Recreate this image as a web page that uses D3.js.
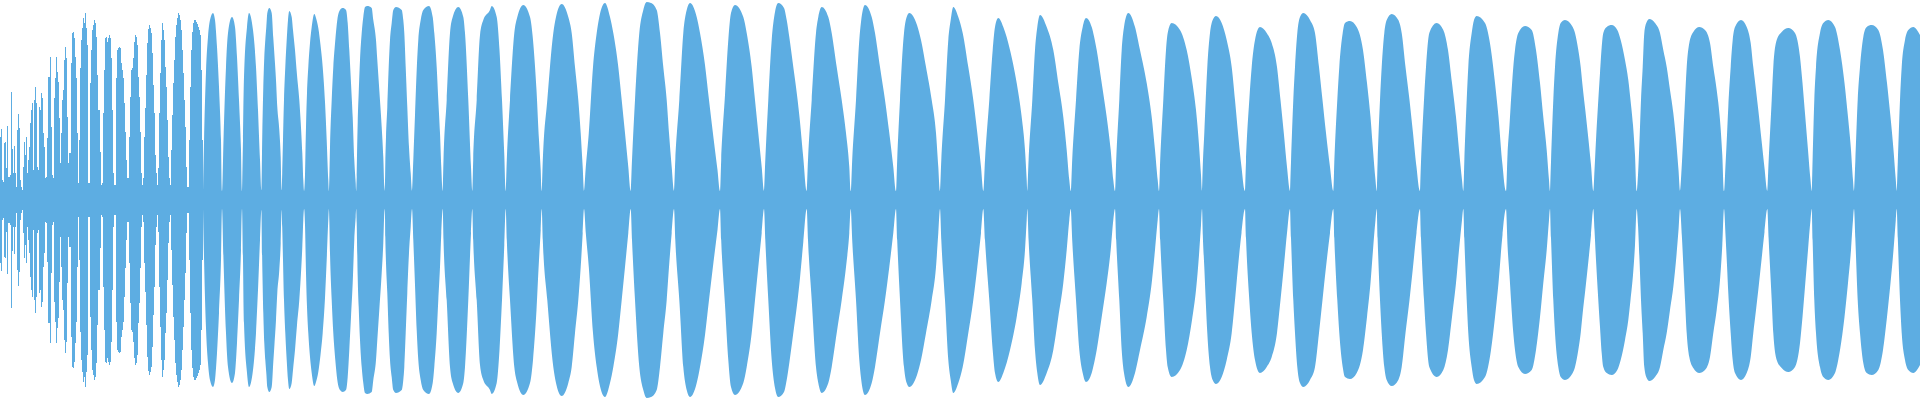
<!DOCTYPE html>
<html><head><meta charset="utf-8">
<script src="https://cdn.jsdelivr.net/npm/d3@7"></script>
<style>html,body{margin:0;padding:0;background:#fff;overflow:hidden}svg{display:block}</style>
</head><body><svg id="chart" width="1920" height="400"></svg>
<script>
// Waveform, one sample per pixel column; amplitudes in level units (full scale = 200)
const sampleCount = 1920;
const levelMax = 200;

// Per-column amplitudes of the noisy opening (columns 0..202)
const spikeAmp = [
 63,71,20,18,57,58,32,74,23,23,
 25,108,51,27,54,27,13,70,86,72,
 20,13,10,33,58,45,63,27,40,53,
 77,90,97,30,100,113,97,33,30,93,
 90,107,102,67,53,22,23,62,123,123,
 143,73,25,22,102,122,143,128,118,82,
 37,67,100,110,140,153,142,83,37,47,
 47,137,167,168,162,143,122,67,17,60,
 132,160,172,182,177,187,172,155,17,17,
 117,150,170,175,180,177,163,125,90,90,
 48,15,17,87,130,162,163,158,162,165,
 162,142,90,27,15,15,122,150,152,153,
 152,137,130,122,97,68,40,22,22,63,
 103,130,132,142,158,165,163,155,123,103,
 68,27,15,22,63,92,125,157,171,175,
 172,167,147,115,87,45,27,15,32,87,
 127,160,177,170,160,133,113,80,43,22,
 15,50,85,117,140,163,175,182,187,185,
 180,170,150,127,100,73,33,13,13,60,
 113,150,168,177,180,180,178,176,173,170,
 165,130,60
];

// Envelope points [sample, amplitude] read from the lobes (column 203 onwards)
const envelope = [
 [203,9],
 [204,57],[206,128],[208,163],[210,180],[213,187],[215,180],[217,153],[219,113],[221,60],[222,9],
 [223.5,60],[226,133],[228,167],[232,183],[235,173],[237,143],[239,100],[241,50],[242,9],
 [243,60],[244,123],[247,173],[249,187],[253,170],[256,133],[258,90],[260,40],[261.4,10],
 [262.3,67],[263.3,113],[264.3,143],[265.3,160],[266.3,173],[267.3,187],[269.3,192],[271.7,187],[273.3,162],[274.3,147],[276,120],[277.3,93],[279.3,70],[280.7,43],[281.6,10],
 [282.2,27],[283,60],[284,100],[285.3,133],[286.7,160],[288,180],[289.3,189],[291.7,183],[293,170],[295,150],[297,125],[299.3,100],[300.7,78],[302.3,47],[303.3,20],[304.1,9],
 [305,25],[306,73],[307,107],[308.3,133],[310,157],[311.7,173],[314.3,186],[316,182],[318.3,172],[320.5,155],[322.7,133],[325,98],[326.7,60],[328.3,20],[328.9,9],
 [329.3,20],[330,53],[331.7,100],[333.3,133],[335.3,160],[337.3,180],[340,190],[342.7,192],[346,190],[347.7,177],[349.3,150],[351,117],[352.7,83],[354.3,40],[355.7,17],[356.2,9],
 [356.7,23],[357.7,77],[358.7,107],[360,140],[361.7,167],[363.3,183],[365,193],[367.3,194],[371.7,192],[373.3,180],[376,160],[377.3,140],[379.3,110],[381.7,73],[383.3,43],[384.3,13],[384.8,9],
 [385.3,37],[386,63],[387.3,93],[388.7,133],[390,160],[391.7,177],[393.3,190],[396,193],[401.7,190],[403.3,180],[404.3,167],[405.7,133],[407.3,93],[409,53],[410.7,27],[412,9],
 [413.3,40],[415,85],[416.7,130],[418.3,160],[420.7,180],[423.3,190],[429,194],[432.7,183],[434.3,167],[436.7,133],[438.3,100],[440,67],[441.3,33],[442.7,9],
 [443.5,40],[446.7,100],[450,167],[452.7,183],[458.3,193],[463.3,183],[465,167],[468.3,100],[471,33],[472.3,9],
 [473.2,40],[476.7,100],[480,165],[483.3,180],[490,190],[491.7,194],[496.7,183],[499.5,150],[502,100],[504.3,45],[505.7,9],
 [506.8,40],[510,100],[514.3,167],[517.3,183],[523.3,195],[530,183],[533,160],[536.5,110],[539,60],[540.7,30],[541.7,9],
 [542.8,40],[547.3,100],[553.3,167],[556,183],[561.7,196],[568.3,183],[571.7,167],[575,133],[578.3,100],[580.7,67],[582.7,33],[584,9],
 [585.8,33],[588.8,67],[593,133],[596.7,167],[599.3,183],[605,197],[610,183],[613.3,167],[618.3,133],[621.7,100],[625,67],[628.3,33],[630.7,9],
 [632,40],[635,100],[639.3,167],[643.3,190],[646.7,198],[651,197],[656.7,190],[660,167],[663.3,133],[666.7,100],[669,67],[671.7,33],[674,9],
 [675.3,40],[679.3,100],[683.3,167],[686.7,190],[690,197],[696.7,183],[700,167],[705,135],[709,100],[713.5,62],[717.5,30],[720,9],
 [721.2,40],[725,105],[728.3,160],[731,187],[735,195],[743.3,183],[746.7,167],[751.7,133],[755,100],[758.3,67],[761.7,33],[764,9],
 [765.3,40],[768.3,100],[771.7,160],[775,188],[778.3,197],[784,192],[786.7,180],[789.3,163],[793.3,133],[797,105],[800,78],[803.3,42],[806.7,9],
 [808,40],[811.7,100],[816,167],[818.3,183],[821.7,193],[828.3,183],[831.7,167],[836.7,133],[841.7,100],[846,67],[849.3,33],[850.7,9],
 [852.2,40],[856,100],[859.3,160],[861,178],[865,195],[871.7,183],[875,167],[880,133],[885,100],[889.3,67],[893.3,33],[896,9],
 [897.2,40],[900,100],[904,167],[906.7,183],[909.3,187],[913,184],[917,175],[921,160],[926,133],[931.7,100],[936,67],[938.3,33],[940,9],
 [941.3,40],[945,100],[948.3,160],[950.7,180],[953.3,193],[958.3,183],[962.7,167],[968.3,133],[973.3,100],[977.3,67],[981,33],[983.3,9],
 [985,40],[989.3,100],[992.7,150],[995,173],[998.3,182],[1003.3,173],[1010,150],[1016.7,117],[1021.7,83],[1025,50],[1026.7,20],[1027.3,9],
 [1028.6,40],[1032.3,100],[1035,150],[1037.3,173],[1040,185],[1046.7,173],[1053.3,150],[1058.3,117],[1063.3,83],[1066.7,50],[1069.3,20],[1070.7,9],
 [1072.2,40],[1076,100],[1079.3,150],[1082.7,173],[1086,182],[1091.7,173],[1096.7,150],[1101.7,117],[1106.7,83],[1110.7,50],[1113.3,20],[1115,9],
 [1116.2,40],[1119.3,100],[1121.7,150],[1124,173],[1128.3,187],[1135,173],[1140,150],[1146.7,117],[1151.7,83],[1155,50],[1157.7,20],[1159,9],
 [1160.2,40],[1163.3,100],[1166,150],[1167.7,167],[1171.7,177],[1180,170],[1186.7,150],[1192,120],[1196,90],[1199,55],[1201,25],[1202,9],
 [1202.8,35],[1204.3,67],[1205.7,100],[1207.3,133],[1210,167],[1212.7,180],[1216,184],[1221.7,177],[1226.7,160],[1231.7,133],[1235,100],[1238,67],[1241.5,33],[1245,9],
 [1246,38],[1249.3,100],[1251.7,133],[1255,160],[1260,173],[1266.7,167],[1271.7,157],[1277,133],[1280.5,100],[1283.8,67],[1287,33],[1290,9],
 [1291,38],[1293.3,100],[1295,133],[1297.3,167],[1300,183],[1303.3,187],[1310,180],[1315,167],[1319,133],[1322.5,100],[1326,67],[1330,33],[1333.3,9],
 [1334.3,38],[1337.3,100],[1339.3,133],[1342.7,167],[1345,177],[1350,179],[1356.7,173],[1363,150],[1367,117],[1370.5,83],[1373,50],[1375.5,20],[1376.7,9],
 [1377.6,38],[1380,100],[1381.7,133],[1384.3,167],[1386.7,180],[1391.7,186],[1398.3,180],[1401.7,167],[1405.5,133],[1409.5,100],[1413,67],[1416.5,33],[1420,9],
 [1421,38],[1424,100],[1426,133],[1429.3,167],[1436.7,177],[1443.3,170],[1448,150],[1452,117],[1456,83],[1459,50],[1462,20],[1463.3,9],
 [1464.3,38],[1466.7,100],[1468.3,133],[1471.7,167],[1474,180],[1476.7,184],[1485,177],[1491,150],[1495,117],[1498.5,83],[1502.5,35],[1506,9],
 [1507.5,45],[1509.5,75],[1511,100],[1513.3,133],[1515,150],[1518.3,167],[1525,174],[1531.7,170],[1536,150],[1540,117],[1543.3,83],[1546.7,50],[1549,20],[1550,9],
 [1551,38],[1553.3,100],[1555,133],[1558.3,167],[1560.7,177],[1565,180],[1572.7,173],[1575,167],[1578.3,150],[1580.7,133],[1582.7,113],[1585.3,90],[1588.5,60],[1591,35],[1593.3,9],
 [1594.5,30],[1596,60],[1597.7,90],[1600,127],[1601.7,153],[1603.3,167],[1606.7,173],[1611.7,175],[1617.3,170],[1620.7,160],[1625,140],[1628.3,120],[1630.5,100],[1633,75],[1635,45],[1636.7,9],
 [1638,25],[1639.5,60],[1641,100],[1642.7,133],[1644.3,167],[1646.7,178],[1649.3,181],[1655,177],[1660,167],[1663.3,150],[1666.7,133],[1670,110],[1673.3,87],[1676.5,55],[1678.5,30],[1680,9],
 [1681.8,35],[1683.3,65],[1685,100],[1686.7,133],[1689.3,157],[1693.3,168],[1699.3,173],[1705,170],[1710,157],[1713.3,133],[1716.7,110],[1720,80],[1722.3,45],[1724,9],
 [1725.5,35],[1727,65],[1728.3,93],[1730.7,133],[1732.7,160],[1735,173],[1741,180],[1746.7,173],[1750.7,157],[1753.3,133],[1756,110],[1758.3,90],[1761.5,60],[1764.5,32],[1767.3,9],
 [1768.6,38],[1771.7,100],[1773.3,133],[1776.7,160],[1781.7,168],[1788.3,172],[1795,167],[1800,143],[1802.5,117],[1805.3,83],[1808,50],[1810.5,20],[1811.7,9],
 [1812.6,40],[1814.3,100],[1816,133],[1820,167],[1823.3,177],[1828.3,180],[1835,173],[1840,150],[1844.5,117],[1848,83],[1851,50],[1853,20],[1854,9],
 [1855.3,38],[1857.7,100],[1860,133],[1863.3,163],[1866.7,173],[1871.7,175],[1878.3,170],[1883,150],[1887,117],[1890.5,83],[1893.5,50],[1895.8,20],[1896.7,9],
 [1897.8,38],[1900,100],[1901.7,133],[1905,160],[1908.3,170],[1913.3,173],[1920,165]
];

const waveColor = "#5dade2";
const W = 1920, H = 400;

const svg = d3.select("#chart");
const x = d3.scaleLinear().domain([0, sampleCount]).range([0, W]);
const y = d3.scaleLinear().domain([-levelMax, levelMax]).range([H, 0]);

// Column bars for the noisy opening
svg.append("g")
  .selectAll("rect")
  .data(spikeAmp)
  .join("rect")
  .attr("x", (d, i) => x(i))
  .attr("width", x(1) - x(0))
  .attr("y", d => y(d))
  .attr("height", d => y(-d) - y(d))
  .attr("fill", waveColor)
  .attr("shape-rendering", "crispEdges");

// Mirrored envelope for the rest of the waveform
const area = d3.area()
  .x(d => x(d[0]))
  .y0(d => y(-d[1]))
  .y1(d => y(d[1]))
  .curve(d3.curveMonotoneX);

svg.append("path")
  .datum(envelope)
  .attr("d", area)
  .attr("fill", waveColor);
</script>
</body></html>
